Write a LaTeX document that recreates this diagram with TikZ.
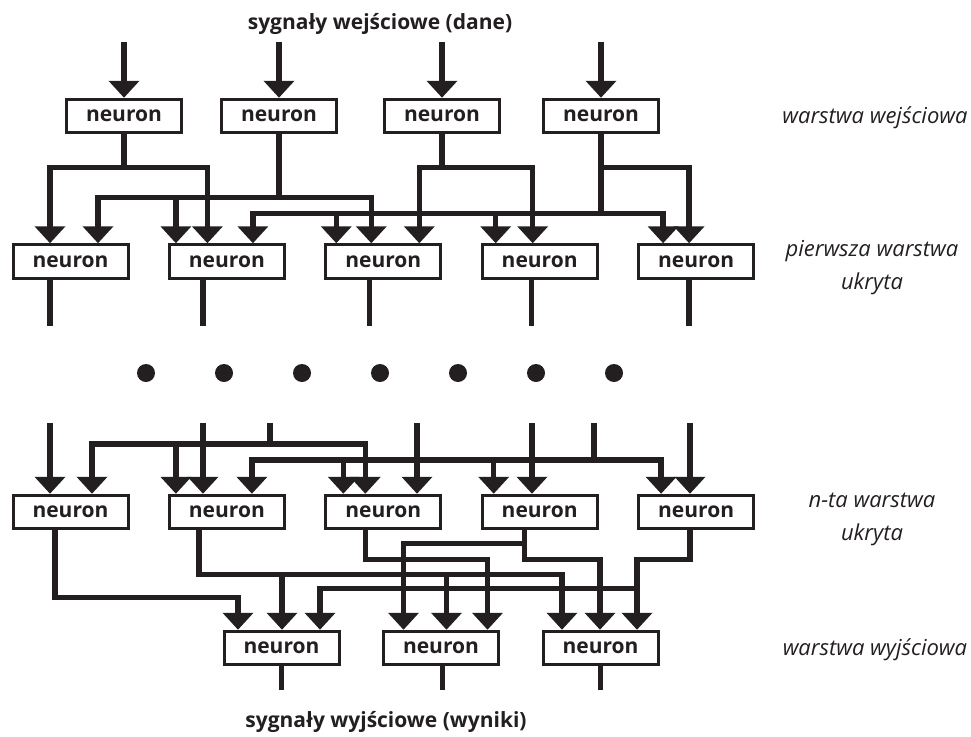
\documentclass[tikz,border=0pt]{standalone}
\usepackage{fontspec}
\setmainfont{Open Sans}
\usetikzlibrary{positioning, arrows.meta}
\definecolor{ink}{HTML}{231F20}

\begin{document}
\begin{tikzpicture}[->, >={Triangle[width=30pt,length=17pt]}, line width=5.5pt, color=ink, x=1pt, y=-1pt, node distance=156.4pt]
\tikzstyle{neuronbox}=[draw, rectangle, line width=3pt, minimum width=115pt, minimum height=33.5pt, inner sep=0pt, font=\fontsize{21}{24}\selectfont\bfseries]
\tikzstyle{caption}=[font=\fontsize{21}{24}\selectfont\bfseries]
\tikzstyle{layername}=[font=\fontsize{22}{33}\selectfont\itshape, align=center]
\tikzstyle{blob}=[-, draw=none, fill=ink]

\useasboundingbox (0,0) rectangle (971,736);

% warstwa wejsciowa
\node[neuronbox]    (I1) at (124,116)   {neuron};
\node[neuronbox]    (I2) at (279,116)   {neuron};
\node[neuronbox]    (I3) at (442,116)   {neuron};
\node[neuronbox]    (I4) at (601,116)   {neuron};

% pierwsza warstwa ukryta
\node[neuronbox]    (H1) at (70.5,261.5)   {neuron};
\node[neuronbox]    (H2)[right of=H1]   {neuron};
\node[neuronbox]    (H3)[right of=H2]   {neuron};
\node[neuronbox]    (H4)[right of=H3]   {neuron};
\node[neuronbox]    (H5)[right of=H4]   {neuron};

% n-ta warstwa ukryta
\node[neuronbox]    (N1) at (70.5,512)   {neuron};
\node[neuronbox]    (N2)[right of=N1]   {neuron};
\node[neuronbox]    (N3)[right of=N2]   {neuron};
\node[neuronbox]    (N4)[right of=N3]   {neuron};
\node[neuronbox]    (N5)[right of=N4]   {neuron};

% warstwa wyjsciowa
\node[neuronbox]    (O1) at (281.5,648)   {neuron};
\node[neuronbox]    (O2)[right of=O1, node distance=159.5pt]   {neuron};
\node[neuronbox]    (O3)[right of=O2, node distance=159.5pt]   {neuron};

% opisy
\node[caption]      (dane)   at (380,24)   {sygnały wejściowe (dane)};
\node[caption]      (wyniki) at (386,722)  {sygnały wyjściowe (wyniki)};
\node[layername]    (Lwe)    at (875,118)  {warstwa wejściowa};
\node[layername]    (Lh1)    at (872,268)  {pierwsza warstwa\\ukryta};
\node[layername]    (Lhn)    at (872,519)  {n-ta warstwa\\ukryta};
\node[layername]    (Lwy)    at (875,650)  {warstwa wyjściowa};

% wejscia
\coordinate (in1) at (124,42);
\coordinate (in2) at (279,42);
\coordinate (in3) at (442,42);
\coordinate (in4) at (601,42);
\path
(in1) edge (I1.north)
(in2) edge (I2.north)
(in3) edge (I3.north)
(in4) edge (I4.north);

% wejsciowa -> pierwsza ukryta
\draw (I1.south) -- ++(0,33) -| ([xshift=-20.5pt]H1.north);
\draw (I1.south) -- ++(0,33) -| ([xshift=-19.5pt]H2.north);
\draw (I2.south) -- ++(0,63) -| ([xshift=27.5pt]H1.north);
\draw (I2.south) -- ++(0,63) -| ([xshift=-51pt]H2.north);
\draw (I2.south) -- ++(0,63) -| ([xshift=-12pt]H3.north);
\draw (I3.south) -- ++(0,33) -| ([xshift=36pt]H3.north);
\draw (I3.south) -- ++(0,33) -| ([xshift=-7pt]H4.north);
\draw (I4.south) -- ++(0,33) -| ([xshift=-7pt]H5.north);
\draw (I4.south) -- ++(0,79) -| ([xshift=26pt]H2.north);
\draw (I4.south) -- ++(0,79) -| ([xshift=-47pt]H3.north);
\draw (I4.south) -- ++(0,79) -| ([xshift=-44pt]H4.north);
\draw (I4.south) -- ++(0,79) -| ([xshift=-33pt]H5.north);

% wyjscia pierwszej ukrytej
\draw[-] ([xshift=-20.5pt]H1.south) -- ++(0,46);
\draw[-] ([xshift=-24pt]H2.south) -- ++(0,46);
\draw[-] ([xshift=-14pt]H3.south) -- ++(0,46);
\draw[-] ([xshift=-8pt]H4.south) -- ++(0,46);
\draw[-] ([xshift=-7pt]H5.south) -- ++(0,46);

% kropki
\foreach \i in {0,...,6}
  \fill[blob] (146+78*\i,373) circle (9pt);

% wejscia n-tej ukrytej
\coordinate (t1) at (50,423);
\coordinate (t2) at (203,423);
\coordinate (t3) at (270,423);
\coordinate (t4) at (417,423);
\coordinate (t5) at (532,423);
\coordinate (t6) at (594,423);
\coordinate (t7) at (690,423);
\draw (t1) -- (t1 |- N1.north);
\draw (t2) -- (t2 |- N2.north);
\draw (t3) -- ++(0,21) -| ([xshift=21.5pt]N1.north);
\draw (t3) -- ++(0,21) -| ([xshift=-51pt]N2.north);
\draw (t3) -- ++(0,21) -| ([xshift=-18pt]N3.north);
\draw (t4) -- (t4 |- N3.north);
\draw (t5) -- (t5 |- N4.north);
\draw (t6) -- ++(0,37) -| ([xshift=25pt]N2.north);
\draw (t6) -- ++(0,37) -| ([xshift=-40pt]N3.north);
\draw (t6) -- ++(0,37) -| ([xshift=-46pt]N4.north);
\draw (t6) -- ++(0,37) -| ([xshift=-35pt]N5.north);
\draw (t7) -- (t7 |- N5.north);

% n-ta ukryta -> wyjsciowa
\draw ([xshift=-15.5pt]N1.south) -- ++(0,67) -| ([xshift=-43.5pt]O1.north);
\draw ([xshift=-28pt]N2.south) -- ++(0,44) -| ([xshift=0.5pt]O1.north);
\draw ([xshift=-28pt]N2.south) -- ++(0,44) -| ([xshift=5.5pt]O2.north);
\draw ([xshift=-28pt]N2.south) -- ++(0,44) -| ([xshift=-38.5pt]O3.north);
\draw ([xshift=-18pt]N3.south) -- ++(0,29) -| ([xshift=46.5pt]O2.north);
\draw ([xshift=-15pt]N4.south) -- ++(0,13) -| ([xshift=-37.5pt]O2.north);
\draw ([xshift=-15pt]N4.south) -- ++(0,29) -| ([xshift=-0.5pt]O3.north);
\draw ([xshift=-6pt]N5.south) -- ++(0,29) -| ([xshift=36.5pt]O3.north);
\draw ([xshift=-6pt]N5.south) -- ++(0,29) -- ++(-53,0) -- ++(0,29) -| ([xshift=38.5pt]O1.north);

% wyjscia
\draw[-] (O1.south) -- ++(0,24);
\draw[-] ([xshift=1.5pt]O2.south) -- ++(0,24);
\draw[-] (O3.south) -- ++(0,24);

\end{tikzpicture}
\end{document}
